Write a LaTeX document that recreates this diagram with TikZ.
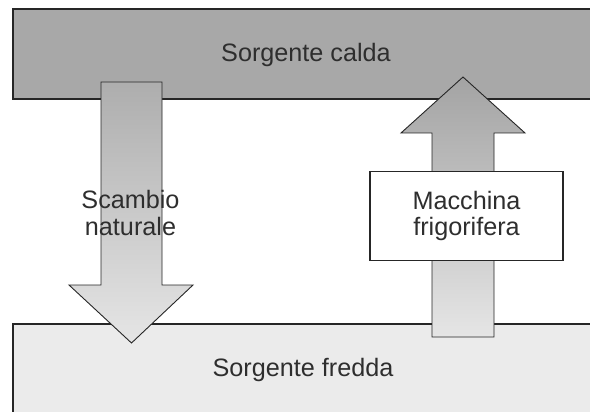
\documentclass[tikz,border=0pt]{standalone}
\usepackage{fontspec}
\setmainfont{Liberation Sans}
\usetikzlibrary{calc}

\definecolor{caldo}{gray}{0.66}
\definecolor{freddo}{gray}{0.92}

\begin{document}
\begin{tikzpicture}[x=1pt, y=-1pt,
        sorgente/.style={draw=black!85, line width=1.2pt},
        freccia/.style={draw=black!85, line width=0.9pt},
        testo/.style={font=\fontsize{25.2}{26.5}\selectfont, align=center, text=black!82}]
    \useasboundingbox (0, 0) rectangle (590, 412);
    \clip (0, 0) rectangle (590, 412);
    \fill[white] (0, 0) rectangle (590, 412);
    \draw[sorgente, fill=caldo] (13, 9) rectangle (600, 99);
    \draw[sorgente, fill=freddo] (13, 324) rectangle (600, 430);
    \draw[freccia, top color=black!32, bottom color=black!10]
        (101, 82) -- (162, 82) -- (162, 285) -- (193, 285) -- (131.5, 343)
        -- (69, 285) -- (101, 285) -- cycle;
    \draw[freccia, top color=black!36, bottom color=black!10]
        (432, 337) -- (494, 337) -- (494, 133) -- (525, 133) -- (463, 77)
        -- (401, 133) -- (432, 133) -- cycle;
    \node[sorgente, testo, fill=white, minimum width=193pt, minimum height=89pt,
        inner sep=0pt] (macchina) at (466.5, 216) {Macchina\\frigorifera};
    \node[testo, anchor=base] (calda) at (306, 62) {Sorgente calda};
    \node[testo, anchor=base] (fredda) at (303, 376) {Sorgente fredda};
    \node[testo] (scambio) at (130.5, 213) {Scambio\\naturale};
\end{tikzpicture}
\end{document}
